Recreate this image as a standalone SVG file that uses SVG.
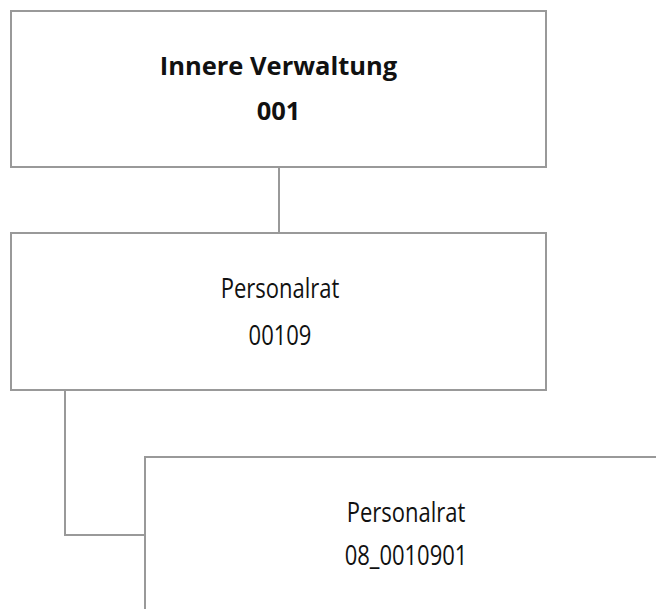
<svg xmlns="http://www.w3.org/2000/svg" width="656" height="609" viewBox="0 0 656 609">
<style>
.box{fill:#ffffff;stroke:#999999;stroke-width:2}
.conn{fill:none;stroke:#999999;stroke-width:2}
.t{font-family:"Open Sans","Noto Sans",sans-serif;font-size:22px;fill:#111111;text-anchor:middle}
.b{font-weight:bold;font-size:25.5px}
</style>
<rect width="656" height="609" fill="#ffffff"/>
<g id="connectors">
<path class="conn" d="M279 167V233"/>
<path class="conn" d="M65 390V535H145"/>
</g>
<g id="node-001">
<rect class="box" x="11" y="11" width="535" height="156"/>
<text class="t b" x="278.5" y="75">Innere Verwaltung</text>
<text class="t b" x="278.5" y="120">001</text>
</g>
<g id="node-00109">
<rect class="box" x="11" y="233" width="535" height="157"/>
<text class="t" transform="translate(280 298) scale(1 1.22)">Personalrat</text>
<text class="t" transform="translate(280 345) scale(1 1.22)">00109</text>
</g>
<g id="node-08_0010901">
<rect class="box" x="145" y="457" width="522" height="157"/>
<text class="t" transform="translate(406 522) scale(1 1.22)">Personalrat</text>
<text class="t" transform="translate(406 565) scale(1 1.22)">08_0010901</text>
</g>
</svg>
